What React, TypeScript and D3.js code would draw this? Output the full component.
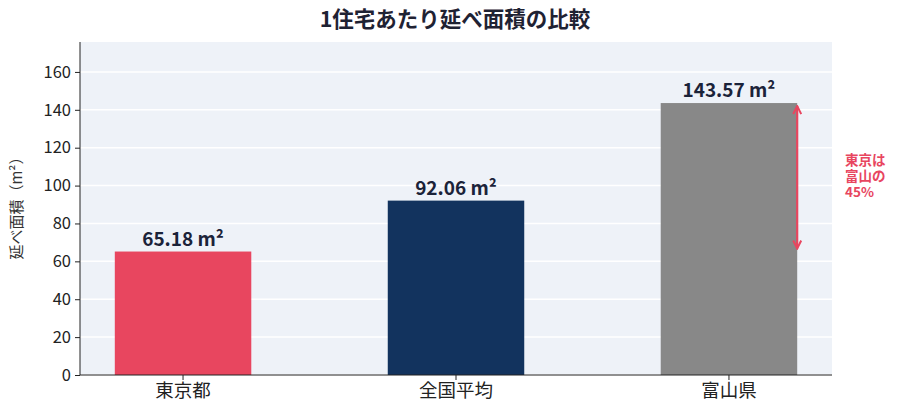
import React, { useRef, useEffect } from 'react';
import * as d3 from 'd3';

const categories = ['東京都', '全国平均', '富山県'];
const areas = [65.18, 92.06, 143.57];
const barColors = ['#e8465f', '#12335e', '#888888'];
const yTicks = [0, 20, 40, 60, 80, 100, 120, 140, 160];
const noteLines = ['東京は', '富山の', '45%'];

const FONT = '"Noto Sans CJK JP", "Noto Sans", sans-serif';

const App: React.FC = () => {
  const svgRef = useRef<SVGSVGElement>(null);

  useEffect(() => {
    if (!svgRef.current) return;
    const svg = d3.select(svgRef.current);
    svg.selectAll('*').remove();

    const width = 900;
    const height = 410;
    const margin = { top: 42, right: 68, bottom: 35, left: 80 };
    const innerW = width - margin.left - margin.right;
    const innerH = height - margin.top - margin.bottom;

    const g = svg.append('g').attr('transform', `translate(${margin.left},${margin.top})`);

    const x = d3.scaleBand().domain(categories).range([0, innerW]).paddingInner(0.5).paddingOuter(0.1275);
    const y = d3.scaleLinear().domain([0, 175.8]).range([innerH, 0]);

    // plot background
    g.append('rect').attr('width', innerW).attr('height', innerH).attr('fill', '#eef2f8');

    // grid
    g.append('g')
      .selectAll('line')
      .data(yTicks)
      .enter().append('line')
      .attr('x1', 0).attr('x2', innerW)
      .attr('y1', (d) => y(d)).attr('y2', (d) => y(d))
      .attr('stroke', '#ffffff').attr('stroke-width', 1.5);

    // bars
    g.selectAll('.bar')
      .data(categories)
      .enter().append('rect')
      .attr('class', 'bar')
      .attr('x', (d) => x(d) || 0)
      .attr('width', x.bandwidth())
      .attr('y', (_, i) => y(areas[i]))
      .attr('height', (_, i) => innerH - y(areas[i]))
      .attr('fill', (_, i) => barColors[i]);

    // value labels
    g.selectAll('.val')
      .data(categories)
      .enter().append('text')
      .attr('x', (d) => (x(d) || 0) + x.bandwidth() / 2)
      .attr('y', (_, i) => y(areas[i]) - 6)
      .attr('text-anchor', 'middle')
      .attr('font-family', FONT)
      .attr('font-weight', 700)
      .attr('font-size', '19px')
      .attr('fill', '#1b2339')
      .text((_, i) => `${areas[i].toFixed(2)} m²`);

    // axes
    const yAxis = g.append('g')
      .call(d3.axisLeft(y).tickValues(yTicks).tickSize(5).tickPadding(4));
    yAxis.selectAll('text').attr('font-family', FONT).attr('font-size', '16.5px').attr('fill', '#222');
    yAxis.selectAll('line').attr('stroke', '#222');
    yAxis.select('.domain').attr('stroke', '#222').attr('d', `M0,${innerH}V0`);

    const xAxis = g.append('g')
      .attr('transform', `translate(0,${innerH})`)
      .call(d3.axisBottom(x).tickSize(5).tickPadding(4));
    xAxis.selectAll('text').attr('font-family', FONT).attr('font-size', '18.5px').attr('fill', '#222');
    xAxis.selectAll('line').attr('stroke', '#222');
    xAxis.select('.domain').attr('stroke', '#222').attr('d', `M0,0H${innerW}`);

    // y label
    g.append('text')
      .attr('transform', 'rotate(-90)')
      .attr('x', -innerH / 2 + 4).attr('y', -58)
      .attr('text-anchor', 'middle')
      .attr('font-family', FONT).attr('font-size', '15px').attr('fill', '#333')
      .text('延べ面積（m²）');

    // title
    svg.append('text')
      .attr('x', 455).attr('y', 27)
      .attr('text-anchor', 'middle')
      .attr('font-family', FONT).attr('font-weight', 700).attr('font-size', '21.5px').attr('fill', '#1f2233')
      .text('1住宅あたり延べ面積の比較');

    // comparison arrow
    const red = '#e8465f';
    const ax = (x(categories[2]) || 0) + x.bandwidth();
    const y1 = y(areas[2]);
    const y2 = y(areas[0]);
    const defs = svg.append('defs');
    defs.append('marker')
      .attr('id', 'arrowHead')
      .attr('viewBox', '0 0 10 10')
      .attr('refX', 9).attr('refY', 5)
      .attr('markerWidth', 10).attr('markerHeight', 10)
      .attr('markerUnits', 'userSpaceOnUse')
      .attr('orient', 'auto-start-reverse')
      .append('path')
      .attr('d', 'M1,1 L9,5 L1,9')
      .attr('fill', 'none').attr('stroke', red).attr('stroke-width', 2);
    g.append('line')
      .attr('x1', ax).attr('x2', ax)
      .attr('y1', y1 + 3).attr('y2', y2 - 3)
      .attr('stroke', red).attr('stroke-width', 2.2)
      .attr('marker-start', 'url(#arrowHead)')
      .attr('marker-end', 'url(#arrowHead)');

    const note = svg.append('text')
      .attr('x', 845).attr('y', 165)
      .attr('font-family', FONT).attr('font-weight', 700).attr('font-size', '13.5px').attr('fill', red);
    noteLines.forEach((line, i) => {
      note.append('tspan').attr('x', 845).attr('dy', i === 0 ? 0 : 16).text(line);
    });
  }, []);

  return <svg ref={svgRef} width={900} height={410} style={{ display: 'block', margin: '-8px' }} />;
};

export default App;
